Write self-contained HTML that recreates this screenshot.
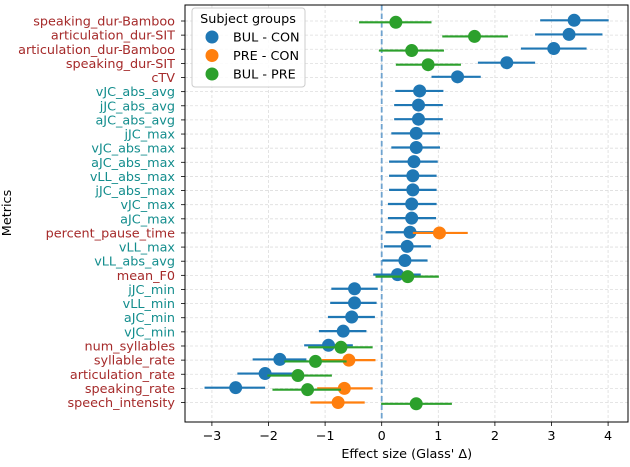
<!DOCTYPE html>
<html><head><meta charset="utf-8"><style>
body{margin:0;background:#fff;}
svg{font-family:"DejaVu Sans","Liberation Sans",sans-serif;}
</style></head><body>
<svg id="c" width="630" height="462" xmlns="http://www.w3.org/2000/svg"></svg>
<script>
const categories=["speaking_dur-Bamboo","articulation_dur-SIT","articulation_dur-Bamboo","speaking_dur-SIT","cTV","vJC_abs_avg","jJC_abs_avg","aJC_abs_avg","jJC_max","vJC_abs_max","aJC_abs_max","vLL_abs_max","jJC_abs_max","vJC_max","aJC_max","percent_pause_time","vLL_max","vLL_abs_avg","mean_F0","jJC_min","vLL_min","aJC_min","vJC_min","num_syllables","syllable_rate","articulation_rate","speaking_rate","speech_intensity"];
const redLabels=["speaking_dur-Bamboo","articulation_dur-SIT","articulation_dur-Bamboo","speaking_dur-SIT","cTV","percent_pause_time","mean_F0","num_syllables","syllable_rate","articulation_rate","speaking_rate","speech_intensity"];
// [categoryIndex, estimate, low, high]
const bulCon=[[0,3.40,2.80,4.01],[1,3.31,2.71,3.90],[2,3.04,2.46,3.62],[3,2.21,1.70,2.71],[4,1.34,0.88,1.75],[5,0.67,0.24,1.09],[6,0.65,0.22,1.08],[7,0.65,0.22,1.08],[8,0.61,0.17,1.03],[9,0.61,0.17,1.03],[10,0.57,0.13,0.99],[11,0.55,0.13,0.97],[12,0.55,0.13,0.97],[13,0.53,0.11,0.97],[14,0.53,0.11,0.96],[15,0.50,0.07,0.92],[16,0.45,0.04,0.87],[17,0.41,0.01,0.81],[18,0.28,-0.15,0.69],[19,-0.48,-0.89,-0.07],[20,-0.48,-0.91,-0.09],[21,-0.53,-0.95,-0.12],[22,-0.68,-1.11,-0.27],[23,-0.94,-1.37,-0.51],[24,-1.80,-2.28,-1.33],[25,-2.06,-2.55,-1.57],[26,-2.58,-3.13,-2.06]];
const preCon=[[15,1.02,0.55,1.52],[24,-0.58,-1.06,-0.11],[26,-0.66,-1.14,-0.16],[27,-0.77,-1.26,-0.30]];
const bulPre=[[0,0.25,-0.40,0.88],[1,1.64,1.07,2.23],[2,0.53,-0.05,1.10],[3,0.82,0.25,1.40],[18,0.46,-0.11,1.01],[23,-0.72,-1.30,-0.16],[24,-1.17,-1.72,-0.62],[25,-1.48,-2.02,-0.88],[26,-1.31,-1.93,-0.72],[27,0.61,-0.01,1.24]];
const xTicks=[-3,-2,-1,0,1,2,3,4];
const xTickLabels=["\u22123","\u22122","\u22121","0","1","2","3","4"];

const L=185,R=628,T=5,B=422;
const FS=12.8;
const X=v=>381.7+v*56.6;
const Y=i=>21+i*14.13;
const svg=document.getElementById('c');
const NS="http://www.w3.org/2000/svg";
function mk(tag,attrs,parent){const e=document.createElementNS(NS,tag);for(const k in attrs)e.setAttribute(k,attrs[k]);(parent||svg).appendChild(e);return e;}

xTicks.forEach((t,i)=>{
  const g=mk('line',{x1:X(t),x2:X(t),y1:T,y2:B,stroke:'#ddd','stroke-width':0.8,'stroke-dasharray':'3,2'});
  
  
  const tk=mk('line',{x1:X(t),x2:X(t),y1:B,y2:B+4,stroke:'#000','stroke-width':0.8});
  
  
  const tx=mk('text',{x:X(t),y:B+18,'text-anchor':'middle','font-size':FS,fill:'#000'});
  tx.textContent=xTickLabels[i];
  
  
});
categories.forEach((c,i)=>{
  const g=mk('line',{x1:L,x2:R,y1:Y(i),y2:Y(i),stroke:'#ddd','stroke-width':0.8,'stroke-dasharray':'3,2'});
  
  
  const tk=mk('line',{x1:L-4,x2:L,y1:Y(i),y2:Y(i),stroke:'#000','stroke-width':0.8});
  
  
  const tx=mk('text',{x:L-10,y:Y(i)+4.5,'text-anchor':'end','font-size':FS,fill:redLabels.includes(c)?'#a52a2a':'#138d8d'});
  tx.textContent=c;
  
  
});
const z=mk('line',{x1:X(0),x2:X(0),y1:T,y2:B,stroke:'#6fa3cf','stroke-width':1.8,'stroke-dasharray':'5.5,3'});



function series(data,color,off,name){
  data.forEach(d=>{
    const y=Y(d[0])+off;
    const l=mk('line',{x1:X(d[2]),x2:X(d[3]),y1:y,y2:y,stroke:color,'stroke-width':2.2});
    
    
    const p=mk('circle',{cx:X(d[1]),cy:y,r:6.5,fill:color});
    
    
  });
}
series(bulCon,'#1f77b4',-0.7,'bul-con');
series(preCon,'#ff7f0e',0,'pre-con');
series(bulPre,'#2ca02c',1.3,'bul-pre');

const fr=mk('rect',{x:L,y:T,width:R-L,height:B-T,fill:'none',stroke:'#000','stroke-width':1});



const lg=mk('g',{});


mk('rect',{x:192,y:8,width:113,height:79,rx:3,fill:'#fff','fill-opacity':0.85,stroke:'#ccc'},lg);
const lt=mk('text',{x:248,y:23,'text-anchor':'middle','font-size':FS,fill:'#000'},lg);
lt.textContent='Subject groups';


[['BUL - CON','#1f77b4'],['PRE - CON','#ff7f0e'],['BUL - PRE','#2ca02c']].forEach((e,i)=>{
  const y=37+i*18.5;
  const g=mk('g',{},lg);
  
  
  mk('circle',{cx:212,cy:y,r:6.5,fill:e[1]},g);
  const t=mk('text',{x:233,y:y+4.5,'font-size':FS,fill:'#000'},g);
  t.textContent=e[0];
});

const xl=mk('text',{x:X(0)+25,y:458,'text-anchor':'middle','font-size':FS,fill:'#000'});
xl.textContent="Effect size (Glass' \u0394)";


const yl=mk('text',{x:11,y:213,'text-anchor':'middle','font-size':FS,fill:'#000',transform:'rotate(-90 11 213)'});
yl.textContent='Metrics';


</script>
</body></html>
